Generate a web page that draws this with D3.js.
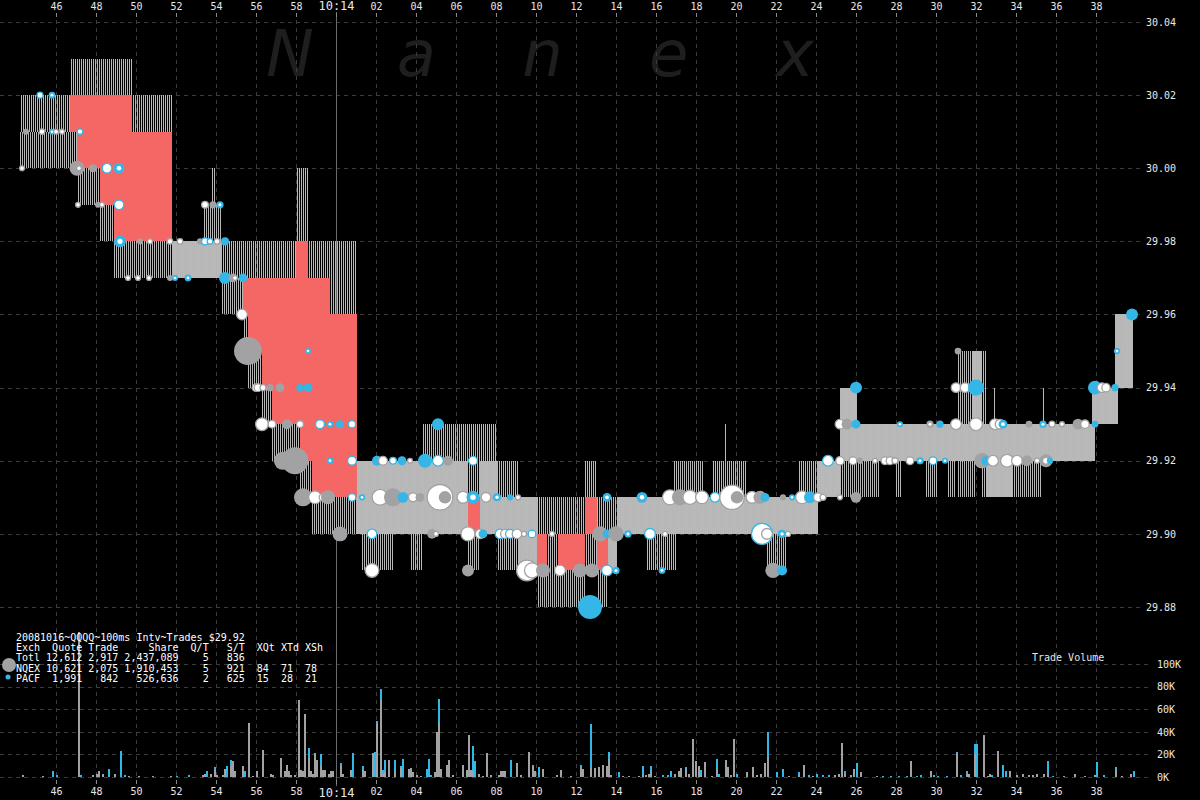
<!DOCTYPE html>
<html><head><meta charset="utf-8">
<script src="https://cdn.jsdelivr.net/npm/d3@7"></script>
<style>
html,body{margin:0;padding:0;background:#000;}
svg{display:block;}
text{font-family:"DejaVu Sans Mono",monospace;}
</style></head><body>
<svg id="c" width="1200" height="800"></svg>
<script>
// ---------- DATA ----------
// time = seconds after 10:13:00
const xTickTimes = [46,48,50,52,54,56,58,60,62,64,66,68,70,72,74,76,78,80,82,84,86,88,90,92,94,96,98];
const xTickLabels = ["46","48","50","52","54","56","58","10:14","02","04","06","08","10","12","14","16","18","20","22","24","26","28","30","32","34","36","38"];
const priceTicks = [29.88,29.90,29.92,29.94,29.96,29.98,30.00,30.02,30.04];
const volTicks = [0,20,40,60,80,100];
const volTickLabels = ["0K","20K","40K","60K","80K","100K"];
const watermarkLetters = ["N","a","n","e","x"];

// NQEX quotes: [start, end, bid, ask]
const nqexQuotes = [
 [44.2,47.05,30.00,30.01],[47.05,48.2,29.99,30.00],[48.2,48.9,29.98,29.99],[48.9,53.35,29.97,29.98],
 [53.35,54.3,29.97,29.99],[53.75,53.95,29.99,30.00],[54.3,55.35,29.96,29.97],[55.35,55.6,29.95,29.96],
 [55.6,56.3,29.94,29.95],[56.3,56.8,29.93,29.94],[56.8,58.2,29.92,29.93],[58.2,58.8,29.91,29.92],
 [58.8,61.05,29.90,29.91],[61.05,66.6,29.90,29.92],[61.3,62.9,29.89,29.90],[66.6,67.2,29.89,29.90],
 [67.2,68.05,29.90,29.92],[68.05,69.1,29.89,29.91],[69.1,70.05,29.89,29.91],[70.05,70.55,29.88,29.89],
 [70.55,71.1,29.88,29.90],[71.1,72.45,29.88,29.89],[72.45,73.05,29.89,29.90],[73.05,73.6,29.88,29.89],
 [73.6,74.05,29.89,29.90],[74.05,76.85,29.90,29.91],[76.85,78.35,29.90,29.92],[78.35,84.1,29.90,29.91],
 [84.1,85.2,29.91,29.92],[85.2,86.05,29.91,29.94],[86.05,87.2,29.91,29.93],[87.2,91.05,29.92,29.93],
 [88.0,88.3,29.91,29.92],[89.5,90.1,29.91,29.92],[90.6,91.0,29.91,29.92],[91.05,92.3,29.92,29.95],
 [91.05,92.0,29.91,29.92],[92.3,93.8,29.91,29.93],[92.85,93.0,29.93,29.94],[93.8,95.3,29.91,29.93],
 [95.3,97.95,29.92,29.93],[97.8,99.1,29.93,29.94],[98.95,99.85,29.94,29.96]
];
// PACF quotes: [start, end, bid, ask]
const pacfQuotes = [
 [44.2,46.7,30.01,30.02],[46.7,49.8,30.02,30.03],[49.8,51.8,30.01,30.02],[51.8,58.0,29.97,29.98],
 [58.0,58.6,29.98,30.00],[58.6,59.7,29.97,29.98],[59.7,61.05,29.96,29.98],[61.05,63.7,29.90,29.92],
 [63.7,64.35,29.89,29.92],[64.35,66.6,29.90,29.93],[66.6,67.2,29.91,29.93],[67.2,68.05,29.90,29.93],
 [68.05,69.1,29.90,29.92],[69.1,70.05,29.89,29.91],[70.05,72.45,29.90,29.91],[72.45,73.05,29.91,29.92],
 [73.05,73.6,29.90,29.91],[73.6,74.05,29.89,29.91],[74.05,75.55,29.90,29.91],[75.55,77.05,29.89,29.91],
 [77.05,78.85,29.90,29.91],[78.85,80.55,29.90,29.92],[79.45,79.5,29.92,29.93],[80.55,81.55,29.90,29.91],
 [81.55,82.55,29.89,29.91],[82.55,83.1,29.90,29.91],[83.1,84.1,29.90,29.92],[84.1,85.2,29.91,29.92],
 [85.2,86.05,29.92,29.94],[86.05,91.8,29.92,29.93],[91.8,92.55,29.92,29.95],[92.55,93.8,29.91,29.93],
 [93.7,93.75,29.92,29.94],[93.8,97.95,29.92,29.93],[95.35,95.4,29.93,29.94],[97.8,99.1,29.93,29.94],
 [98.95,99.85,29.94,29.96]
];
// trades: [time, price, exchange, shares, mark]  mark: f=filled, w=white, c=centre
const trades = [
 [44.3,30.00,"N",2800,"w"],[44.5,30.01,"N",2800,"f"],[45.2,30.02,"P",4000,"w"],[45.3,30.01,"N",3500,"w"],
 [45.8,30.02,"P",3500,"c"],[45.8,30.01,"P",2800,"c"],[46.0,30.01,"N",2800,"w"],[46.3,30.01,"N",2800,"w"],
 [47.05,30.00,"N",17000,"f"],[47.15,30.00,"N",2800,"w"],[47.1,29.99,"N",2800,"w"],[47.2,30.01,"P",3500,"w"],
 [47.85,30.00,"N",4900,"f"],[48.1,29.99,"N",2800,"f"],[48.3,29.99,"N",2800,"w"],[48.55,30.00,"P",9000,"w"],
 [49.15,30.00,"P",9000,"c"],[49.15,29.99,"P",9000,"w"],[49.2,29.98,"P",11000,"c"],[49.6,29.97,"N",2800,"w"],
 [50.1,29.97,"N",2800,"w"],[50.2,29.98,"N",2800,"f"],[50.7,29.98,"N",2800,"w"],[50.65,29.97,"N",2800,"w"],
 [51.7,29.98,"N",3500,"w"],[51.7,29.97,"N",2800,"f"],[51.95,29.97,"P",2800,"c"],[52.2,29.98,"N",3500,"w"],
 [52.6,29.97,"P",3500,"c"],[53.2,29.98,"N",2800,"f"],[53.45,29.99,"N",4900,"w"],[53.45,29.98,"P",4900,"w"],
 [53.7,29.98,"P",3500,"w"],[53.85,29.99,"N",4000,"f"],[54.05,29.98,"N",3500,"w"],[54.2,29.99,"P",4000,"c"],
 [54.45,29.98,"P",4900,"f"],[54.45,29.97,"P",11000,"f"],[54.85,29.97,"N",6000,"f"],[54.95,29.97,"N",2800,"w"],
 [55.35,29.97,"P",6000,"f"],[55.3,29.96,"N",11000,"w"],[55.6,29.95,"N",60000,"f"],
 [56.0,29.94,"N",6000,"w"],[56.1,29.94,"N",6000,"w"],[56.35,29.94,"N",4000,"w"],[56.7,29.94,"N",4000,"f"],
 [57.2,29.94,"N",6000,"f"],[58.2,29.94,"P",4000,"f"],[58.6,29.94,"P",6000,"f"],[58.6,29.95,"P",2800,"c"],
 [56.3,29.93,"N",15000,"w"],[56.8,29.93,"N",6000,"w"],[57.55,29.93,"N",7700,"f"],[58.2,29.93,"N",5000,"w"],
 [59.2,29.93,"P",7700,"w"],[59.7,29.93,"P",3500,"c"],[60.2,29.93,"P",4900,"f"],[60.8,29.93,"P",5500,"w"],
 [57.35,29.92,"N",25000,"f"],[57.95,29.92,"N",55000,"f"],[59.7,29.92,"P",3500,"c"],[60.8,29.92,"P",7700,"w"],
 [62.05,29.92,"P",7700,"f"],[62.35,29.92,"N",7700,"w"],[62.85,29.92,"P",4900,"w"],[63.3,29.92,"P",6000,"f"],
 [63.7,29.92,"N",2800,"w"],[64.45,29.92,"P",15000,"f"],[65.1,29.92,"P",11000,"w"],[65.6,29.92,"N",7700,"f"],
 [66.85,29.92,"P",7700,"w"],[65.1,29.93,"P",11000,"f"],
 [58.35,29.91,"N",25000,"f"],[58.95,29.91,"N",15000,"w"],[59.35,29.91,"N",6000,"w"],[59.6,29.91,"N",15000,"f"],
 [60.8,29.91,"P",6000,"w"],[61.3,29.91,"P",3000,"c"],[62.2,29.91,"N",22000,"w"],[62.85,29.91,"N",25000,"f"],
 [63.35,29.91,"P",9000,"f"],[63.85,29.91,"N",7700,"w"],[64.2,29.91,"N",6000,"f"],[65.2,29.91,"N",55000,"w"],
 [65.45,29.91,"N",12000,"f"],[66.35,29.91,"N",13000,"w"],[66.85,29.91,"P",13000,"c"],[67.5,29.91,"N",9000,"w"],
 [68.05,29.91,"P",5000,"c"],[68.7,29.91,"P",3000,"f"],[69.1,29.91,"N",3000,"w"],[73.55,29.91,"P",6000,"c"],
 [75.3,29.91,"P",9000,"c"],[76.7,29.91,"N",20000,"w"],[77.2,29.91,"N",20000,"f"],[77.7,29.91,"N",18000,"w"],
 [78.3,29.91,"N",15000,"w"],[78.95,29.91,"P",9000,"w"],[79.8,29.91,"N",50000,"w"],[80.05,29.91,"N",12000,"f"],
 [80.8,29.91,"N",13000,"w"],[81.2,29.91,"N",13000,"f"],[81.45,29.91,"P",6000,"f"],[82.35,29.91,"N",3000,"f"],
 [82.8,29.91,"P",3000,"c"],[83.3,29.91,"N",15000,"w"],[83.7,29.91,"P",11000,"f"],[84.1,29.91,"N",7700,"w"],
 [84.35,29.91,"N",4000,"w"],[85.2,29.91,"N",2800,"w"],[86.0,29.91,"N",9000,"f"],
 [60.2,29.90,"N",17000,"f"],[61.8,29.90,"P",9000,"w"],[64.8,29.90,"N",7000,"f"],[65.0,29.90,"N",2800,"w"],
 [66.6,29.90,"N",18000,"w"],[67.2,29.90,"N",9000,"w"],[67.35,29.90,"P",6000,"f"],[68.2,29.90,"P",9000,"w"],
 [68.45,29.90,"N",7700,"w"],[68.7,29.90,"P",7700,"w"],[69.05,29.90,"N",9000,"w"],[69.4,29.90,"N",3000,"w"],
 [69.8,29.90,"P",6000,"w"],[70.8,29.90,"N",3000,"w"],[73.2,29.90,"N",18000,"f"],[73.55,29.90,"P",6000,"f"],
 [74.0,29.90,"N",18000,"f"],[74.6,29.90,"P",4000,"c"],[75.7,29.90,"P",11000,"w"],[76.45,29.90,"N",3000,"w"],
 [81.3,29.90,"P",38000,"w"],[81.55,29.90,"N",11000,"w"],[82.3,29.90,"P",5000,"c"],[82.6,29.90,"N",3000,"w"],
 [61.8,29.89,"N",17000,"w"],[66.6,29.89,"N",11000,"f"],[69.55,29.89,"N",37000,"w"],[69.8,29.89,"N",20000,"w"],
 [70.35,29.89,"N",15000,"f"],[71.2,29.89,"N",11000,"w"],[72.2,29.89,"N",15000,"f"],[72.8,29.89,"N",15000,"f"],
 [73.55,29.89,"P",11000,"w"],[74.0,29.89,"P",4000,"c"],[76.3,29.89,"P",3500,"c"],[81.85,29.89,"N",18000,"f"],
 [82.3,29.89,"P",7700,"f"],[72.7,29.88,"P",44000,"f"],
 [84.6,29.92,"P",11000,"w"],[85.2,29.92,"N",7000,"w"],[85.85,29.92,"N",6000,"w"],[86.2,29.92,"N",3000,"f"],
 [86.95,29.92,"N",2800,"w"],[87.45,29.92,"N",6000,"w"],[87.7,29.92,"N",6000,"w"],[87.95,29.92,"N",4000,"w"],
 [88.7,29.92,"N",6000,"w"],[89.2,29.92,"P",4000,"c"],[89.85,29.92,"P",6000,"w"],[90.45,29.92,"P",2800,"c"],
 [92.3,29.92,"N",18000,"f"],[92.5,29.92,"P",6000,"f"],[92.85,29.92,"N",11000,"w"],[93.55,29.92,"N",15000,"w"],
 [94.05,29.92,"N",11000,"w"],[94.55,29.92,"N",9000,"f"],[95.05,29.92,"N",3000,"w"],[95.5,29.92,"N",13000,"c"],
 [95.7,29.92,"P",3000,"f"],
 [85.2,29.93,"N",9000,"w"],[85.55,29.93,"N",9000,"f"],[86.0,29.93,"P",6000,"f"],[88.2,29.93,"P",2800,"c"],
 [89.7,29.93,"N",4000,"c"],[90.2,29.93,"P",4000,"f"],[91.0,29.93,"N",11000,"w"],[92.0,29.93,"N",15000,"w"],
 [92.95,29.93,"N",11000,"w"],[93.2,29.93,"N",9000,"w"],[93.35,29.93,"P",6000,"c"],[94.65,29.93,"N",3500,"f"],
 [95.35,29.93,"P",4000,"c"],[95.8,29.93,"N",4000,"w"],[96.3,29.93,"N",2800,"w"],[97.1,29.93,"N",9000,"f"],
 [97.45,29.93,"N",7000,"w"],[97.95,29.93,"P",3500,"f"],
 [86.0,29.94,"P",11000,"f"],[91.0,29.94,"N",9000,"w"],[91.45,29.94,"N",9000,"w"],[92.0,29.94,"P",20000,"f"],
 [97.95,29.94,"P",15000,"f"],[98.3,29.94,"N",9000,"w"],[98.5,29.94,"N",7000,"w"],[98.95,29.94,"P",4000,"f"],
 [91.1,29.95,"N",3500,"f"],[99.05,29.95,"P",3000,"c"],[99.8,29.96,"P",11000,"f"]
];
// volume per 100ms: [time, NQEX (K shares), PACF (K shares)]
const volumeBars = [
 [44.3,2,0],[45.3,1,0],[45.8,0,5],[46.0,0,2],[47.1,128,0],[47.2,0,2],[47.8,2,0],[48.0,3,0],[48.1,5,0],[48.3,3,0],
 [48.6,0,7],[48.9,3,0],[49.2,0,23],[49.4,0,2],[49.6,1,0],[50.1,1,0],[50.8,1,0],[51.7,1,0],[52.0,0,1],[52.6,0,2],
 [53.3,2,0],[53.4,3,0],[53.5,0,5],[53.7,3,0],[53.9,6,3],[54.0,2,0],[54.3,2,0],[54.4,7,0],[54.5,0,10],[54.7,10,5],
 [54.8,14,0],[54.9,5,0],[55.3,10,0],[55.4,0,5],[55.6,48,0],[55.8,1,0],[56.0,5,0],[56.3,24,0],[56.7,3,0],[56.8,2,0],
 [57.2,17,0],[57.4,5,0],[57.5,11,0],[57.6,5,0],[57.7,2,0],[57.9,2,0],[58.1,68,0],[58.2,6,0],[58.3,5,0],[58.4,56,0],
 [58.6,17,9],[58.7,5,0],[58.8,3,0],[58.9,21,0],[59.0,15,0],[59.2,10,10],[59.3,6,0],[59.4,6,0],[59.6,3,0],[59.7,5,0],
 [59.8,5,0],[60.2,10,2],[60.3,3,0],[60.7,6,0],[60.8,0,21],[61.3,6,4],[61.4,5,0],[61.8,21,0],[61.9,0,22],[62.0,47,3],
 [62.2,68,10],[62.3,3,3],[62.4,4,11],[62.6,15,0],[62.9,5,10],[63.2,8,2],[63.3,0,16],[63.6,7,0],[63.7,8,0],[63.8,4,0],
 [64.0,2,0],[64.2,1,0],[64.5,0,7],[64.6,0,16],[64.7,0,2],[64.9,4,0],[65.0,40,0],[65.1,48,21],[65.2,7,0],[65.5,11,0],
 [65.6,15,0],[65.8,2,0],[66.3,11,0],[66.5,6,0],[66.6,37,0],[66.7,6,0],[66.8,5,22],[66.9,0,14],[67.1,3,0],[67.3,1,0],
 [67.5,21,0],[67.7,2,0],[68.1,2,0],[68.2,5,0],[68.3,5,0],[68.4,5,0],[68.7,0,15],[69.0,12,0],[69.2,2,0],[69.6,22,0],
 [69.8,10,1],[69.9,5,0],[70.1,0,9],[70.3,7,0],[71.0,2,0],[71.2,6,0],[71.7,1,0],[72.2,8,3],[72.3,7,0],[72.7,8,39],
 [72.9,8,0],[73.1,9,0],[73.3,11,0],[73.5,10,0],[73.6,16,6],[73.7,2,0],[74.1,0,4],[74.3,1,0],[74.6,1,0],[75.1,1,0],
 [75.3,2,8],[75.45,2,0],[75.6,3,0],[75.7,5,5],[75.9,1,0],[76.3,0,2],[76.55,0,2],[76.7,0,5],[76.9,3,0],[77.1,5,0],
 [77.2,8,0],[77.45,7,2],[77.6,3,0],[77.8,34,0],[77.95,14,0],[78.1,10,0],[78.2,2,4],[78.4,13,0],[78.75,1,0],[79.0,7,9],
 [79.1,0,3],[79.45,15,0],[79.55,9,0],[79.7,2,0],[79.85,34,0],[80.0,0,3],[80.5,4,0],[80.8,9,0],[81.0,2,0],[81.2,3,0],
 [81.4,12,0],[81.55,18,22],[82.0,0,4],[82.3,0,7],[82.6,1,0],[83.1,2,2],[83.35,11,0],[83.6,0,2],[83.8,1,0],[84.0,0,3],
 [84.3,0,2],[84.6,0,2],[84.9,2,0],[85.1,3,0],[85.25,30,0],[85.4,3,2],[85.7,2,0],[85.85,7,0],[86.0,0,12],[86.2,4,0],
 [87.0,1,0],[87.3,0,1],[87.7,0,1],[88.1,0,1],[88.5,0,1],[88.7,14,0],[89.0,0,1],[89.2,0,2],[89.7,5,0],[89.85,0,2],
 [90.05,0,1],[90.5,0,1],[91.0,20,2],[91.2,0,2],[91.5,3,2],[91.6,3,0],[91.9,20,9],[92.0,0,29],[92.35,36,1],[92.55,1,0],
 [92.65,3,0],[92.75,0,2],[93.05,23,0],[93.3,0,11],[93.45,0,5],[93.65,5,0],[94.0,2,0],[94.3,3,0],[94.6,2,0],[94.8,2,0],
 [95.0,3,0],[95.35,3,0],[95.55,3,11],[95.8,0,1],[96.35,1,0],[96.9,3,0],[97.4,1,0],[97.9,2,0],[98.0,0,13],[98.35,0,2],
 [98.95,6,3],[99.25,1,0],[99.7,3,0],[99.85,0,5]
];
const legendTitle = "20081016~QQQQ~100ms Intv~Trades $29.92";
const legendHeader = "Exch  Quote Trade     Share  Q/T   S/T  XQt XTd XSh";
const legendRows = [
 "Totl 12,612 2,917 2,437,089    5   836",
 "NQEX 10,621 2,075 1,910,453    5   921  84  71  78",
 "PACF  1,991   842   526,636    2   625  15  28  21"
];
const volumeTitle = "Trade Volume";

// ---------- CHART ----------
const W = 1200, H = 800;
const COL = {N:"#a2a2a4", P:"#34b6e6", red:"#f46765", grid:"#3c3c3c", text:"#e8e8e8"};
const svg = d3.select("#c");
svg.append("rect").attr("width",W).attr("height",H).attr("fill","#000");

const x = d3.scaleLinear().domain([43.2,103.2]).range([0,1200]);
const y = d3.scaleLinear().domain([29.88,30.04]).range([607,22]);
const v = d3.scaleLinear().domain([0,100]).range([777,664]);
const r = d3.scaleSqrt().domain([0,60000]).range([0,14]);

const defs = svg.append("defs");
const patN = defs.append("pattern").attr("id","pN").attr("patternUnits","userSpaceOnUse").attr("width",2).attr("height",4);
patN.append("rect").attr("x",0).attr("y",0).attr("width",1).attr("height",4).attr("fill","#b6b6b6");
const patP = defs.append("pattern").attr("id","pP").attr("patternUnits","userSpaceOnUse").attr("width",2).attr("height",4);
patP.append("rect").attr("x",1).attr("y",0).attr("width",1).attr("height",4).attr("fill","#88cbe4");

// watermark
const wmX = d3.scalePoint().domain(d3.range(watermarkLetters.length)).range([290,795]);
svg.append("g").selectAll("text").data(watermarkLetters).join("text")
  .attr("x",(d,i)=>wmX(i)).attr("y",76).attr("text-anchor","middle")
  .style("font-family","'DejaVu Sans',sans-serif").style("font-style","italic")
  .style("font-size","64px").attr("fill","#1e1e1e").text(d=>d);

// grid
const grid = svg.append("g").attr("stroke",COL.grid).attr("stroke-dasharray","4,4").attr("shape-rendering","crispEdges");
grid.selectAll(".vx").data(xTickTimes).join("line")
  .attr("x1",d=>Math.round(x(d))+0.5).attr("x2",d=>Math.round(x(d))+0.5).attr("y1",20).attr("y2",777);
grid.selectAll(".hy").data(priceTicks).join("line")
  .attr("x1",0).attr("x2",1140).attr("y1",d=>Math.round(y(d))+0.5).attr("y2",d=>Math.round(y(d))+0.5);
grid.selectAll(".hv").data(volTicks).join("line")
  .attr("x1",0).attr("x2",1150).attr("y1",d=>Math.round(v(d))+0.5).attr("y2",d=>Math.round(v(d))+0.5);

// 10:14 marker line
svg.append("line").attr("x1",Math.round(x(60))+0.5).attr("x2",Math.round(x(60))+0.5)
  .attr("y1",12).attr("y2",786).attr("stroke","#6a6a6a").attr("shape-rendering","crispEdges");

// crossed-market (red) regions computed from both quote series
function active(list, t){ return list.filter(q=>q[0]<=t && t<q[1]); }
const step = 0.05;
const tStart = d3.min(nqexQuotes.concat(pacfQuotes),q=>q[0]);
const tEnd = d3.max(nqexQuotes.concat(pacfQuotes),q=>q[1]);
const reds = [];
for(let t=tStart; t<tEnd-1e-9; t+=step){
  const tm = t+step/2;
  const a = active(nqexQuotes,tm), b = active(pacfQuotes,tm);
  if(!a.length || !b.length) continue;
  const nBid = d3.min(a,q=>q[2]), nAsk = d3.max(a,q=>q[3]);
  const pBid = d3.min(b,q=>q[2]), pAsk = d3.max(b,q=>q[3]);
  let lo=null, hi=null;
  if(nAsk < pBid - 1e-9){ lo=nAsk; hi=pBid; } else if(pAsk < nBid - 1e-9){ lo=pAsk; hi=nBid; }
  if(lo===null) continue;
  const last = reds[reds.length-1];
  if(last && Math.abs(last.t1-t)<1e-6 && last.lo===lo && last.hi===hi){ last.t1 = t+step; }
  else reds.push({t0:t,t1:t+step,lo:lo,hi:hi});
}
const gQ = svg.append("g").attr("shape-rendering","crispEdges");
gQ.selectAll(".red").data(reds).join("rect")
  .attr("x",d=>Math.round(x(d.t0))).attr("width",d=>Math.max(1,Math.round(x(d.t1))-Math.round(x(d.t0))))
  .attr("y",d=>Math.round(y(d.hi))).attr("height",d=>Math.round(y(d.lo))-Math.round(y(d.hi)))
  .attr("fill",COL.red);
gQ.selectAll(".nq").data(nqexQuotes).join("rect")
  .attr("x",d=>Math.round(x(d[0]))).attr("width",d=>Math.max(1,Math.round(x(d[1]))-Math.round(x(d[0]))))
  .attr("y",d=>Math.round(y(d[3]))).attr("height",d=>Math.round(y(d[2]))-Math.round(y(d[3])))
  .attr("fill","url(#pN)");
gQ.selectAll(".pc").data(pacfQuotes).join("rect")
  .attr("x",d=>Math.round(x(d[0]))).attr("width",d=>Math.max(1,Math.round(x(d[1]))-Math.round(x(d[0]))))
  .attr("y",d=>Math.round(y(d[3]))).attr("height",d=>Math.round(y(d[2]))-Math.round(y(d[3])))
  .attr("fill","url(#pP)");

// trades
const gT = svg.append("g");
trades.forEach(d=>{
  const cx = x(d[0]), cy = y(d[1]), rr = Math.max(2,r(d[3])), c = COL[d[2]];
  if(d[4]==="w"){
    gT.append("circle").attr("cx",cx).attr("cy",cy).attr("r",rr-0.6).attr("fill","#fff").attr("stroke",c).attr("stroke-width",1.3);
  } else {
    gT.append("circle").attr("cx",cx).attr("cy",cy).attr("r",rr).attr("fill",c);
    if(d[4]==="c") gT.append("circle").attr("cx",cx).attr("cy",cy).attr("r",Math.max(1.3,rr*0.42)).attr("fill","#fff");
  }
});

// volume bars
const gV = svg.append("g").attr("shape-rendering","crispEdges");
gV.selectAll(".vn").data(volumeBars.filter(d=>d[1]>0)).join("rect")
  .attr("x",d=>Math.round(x(d[0]))).attr("width",2)
  .attr("y",d=>v(d[1])).attr("height",d=>v(0)-v(d[1])).attr("fill",COL.N);
gV.selectAll(".vp").data(volumeBars.filter(d=>d[2]>0)).join("rect")
  .attr("x",d=>Math.round(x(d[0]))).attr("width",2)
  .attr("y",d=>v(d[1]+d[2])).attr("height",d=>v(d[1])-v(d[1]+d[2])).attr("fill",COL.P);

// axes
function styleAxis(g){
  g.select(".domain").remove();
  g.selectAll(".tick line").attr("stroke","#8a8a8a");
  g.selectAll(".tick text").attr("fill",COL.text).style("font-size","10px")
   .style("font-family","'DejaVu Sans Mono',monospace");
}
const axTop = svg.append("g").attr("transform","translate(0,17)")
  .call(d3.axisTop(x).tickValues(xTickTimes).tickFormat((d,i)=>xTickLabels[i]).tickSize(4).tickPadding(3));
styleAxis(axTop);
const axBot = svg.append("g").attr("transform","translate(0,780)")
  .call(d3.axisBottom(x).tickValues(xTickTimes).tickFormat((d,i)=>xTickLabels[i]).tickSize(4).tickPadding(4));
styleAxis(axBot);
[axTop,axBot].forEach(g=>g.selectAll(".tick text").filter(d=>d===60).style("font-size","12px"));
const axPrice = svg.append("g").attr("transform","translate(1140,0)")
  .call(d3.axisRight(y).tickValues(priceTicks).tickFormat(d3.format(".2f")).tickSize(0).tickPadding(6));
styleAxis(axPrice);
const axVol = svg.append("g").attr("transform","translate(1151,0)")
  .call(d3.axisRight(v).tickValues(volTicks).tickFormat((d,i)=>volTickLabels[i]).tickSize(0).tickPadding(6));
styleAxis(axVol);

svg.append("text").attr("x",1032).attr("y",661).attr("fill",COL.text).style("font-size","10px").text(volumeTitle);

// legend
const lg = svg.append("g").attr("fill","#fff").style("font-size","10px").style("white-space","pre");
[legendTitle, legendHeader].concat(legendRows).forEach((s,i)=>{
  lg.append("text").attr("x",16).attr("y",641+i*10.2).attr("xml:space","preserve").text(s);
});
svg.append("circle").attr("cx",9).attr("cy",665).attr("r",7).attr("fill",COL.N);
svg.append("circle").attr("cx",8).attr("cy",677).attr("r",2.5).attr("fill",COL.P);
</script>
</body></html>
